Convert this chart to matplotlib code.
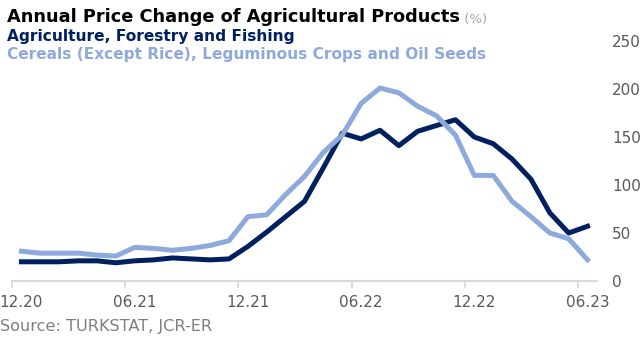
import matplotlib
matplotlib.use("Agg")
import matplotlib.pyplot as plt

# monthly data 12.20 -> 06.23
months = ['12.20', '01.21', '02.21', '03.21', '04.21', '05.21', '06.21', '07.21', '08.21', '09.21',
          '10.21', '11.21', '12.21', '01.22', '02.22', '03.22', '04.22', '05.22', '06.22', '07.22',
          '08.22', '09.22', '10.22', '11.22', '12.22', '01.23', '02.23', '03.23', '04.23', '05.23', '06.23']
agri = [20, 20, 20, 21, 21, 19, 21, 22, 24, 23, 22, 23, 36, 51, 67, 83, 118, 154, 148, 157,
        141, 156, 162, 168, 150, 143, 127, 106, 71, 50, 57]
cereals = [31, 29, 29, 29, 27, 26, 35, 34, 32, 34, 37, 42, 67, 69, 90, 109, 134, 152, 185, 201,
           196, 182, 172, 152, 110, 110, 83, 67, 50, 44, 22]
tick_labels = ['12.20', '06.21', '12.21', '06.22', '12.22', '06.23']

dark = '#002060'
light = '#8EA9DB'
grey = '#595959'

fig = plt.figure(figsize=(6.43, 3.38), dpi=100)
ax = fig.add_axes([12/643, 57/338, 585/643, 240/338])

x = list(range(len(months)))
ax.plot(x, agri, color=dark, lw=3.6)
ax.plot(x, cereals, color=light, lw=3.6)

ax.set_xlim(-0.5, len(months) - 0.5)
ax.set_ylim(0, 250)

# labels at category centres, tick marks at category boundaries
ax.set_xticks(range(0, len(months), 6))
ax.set_xticklabels(tick_labels)
ax.set_xticks([i - 0.5 for i in range(0, len(months), 6)], minor=True)
ax.tick_params(axis='x', which='major', length=0, labelsize=11, labelcolor=grey, pad=10)
ax.tick_params(axis='x', which='minor', length=5, color='#D9D9D9', width=1.2)

ax.yaxis.tick_right()
ax.set_yticks([0, 50, 100, 150, 200, 250])
ax.tick_params(axis='y', length=0, labelsize=11, labelcolor=grey, pad=11)

for s in ['top', 'left', 'right']:
    ax.spines[s].set_visible(False)
ax.spines['bottom'].set_color('#D9D9D9')
ax.spines['bottom'].set_linewidth(1.5)

t = fig.text(7/643, 1 - 17/338, 'Annual Price Change of Agricultural Products',
             fontsize=12.8, fontweight='bold', color='black', va='center')
ax.annotate(' (%)', xy=(1, 0), xycoords=t, fontsize=9.5, color='#A6A6A6',
            va='bottom', ha='left', annotation_clip=False)
fig.text(7/643, 1 - 36/338, 'Agriculture, Forestry and Fishing',
         fontsize=11.1, fontweight='bold', color=dark, va='center')
fig.text(7/643, 1 - 55/338, 'Cereals (Except Rice), Leguminous Crops and Oil Seeds',
         fontsize=11.1, fontweight='bold', color=light, va='center')
fig.text(0, 1 - 327/338, 'Source: TURKSTAT, JCR-ER', fontsize=11.6, color='#7F7F7F', va='center')

fig.savefig('out.png', dpi=100)
